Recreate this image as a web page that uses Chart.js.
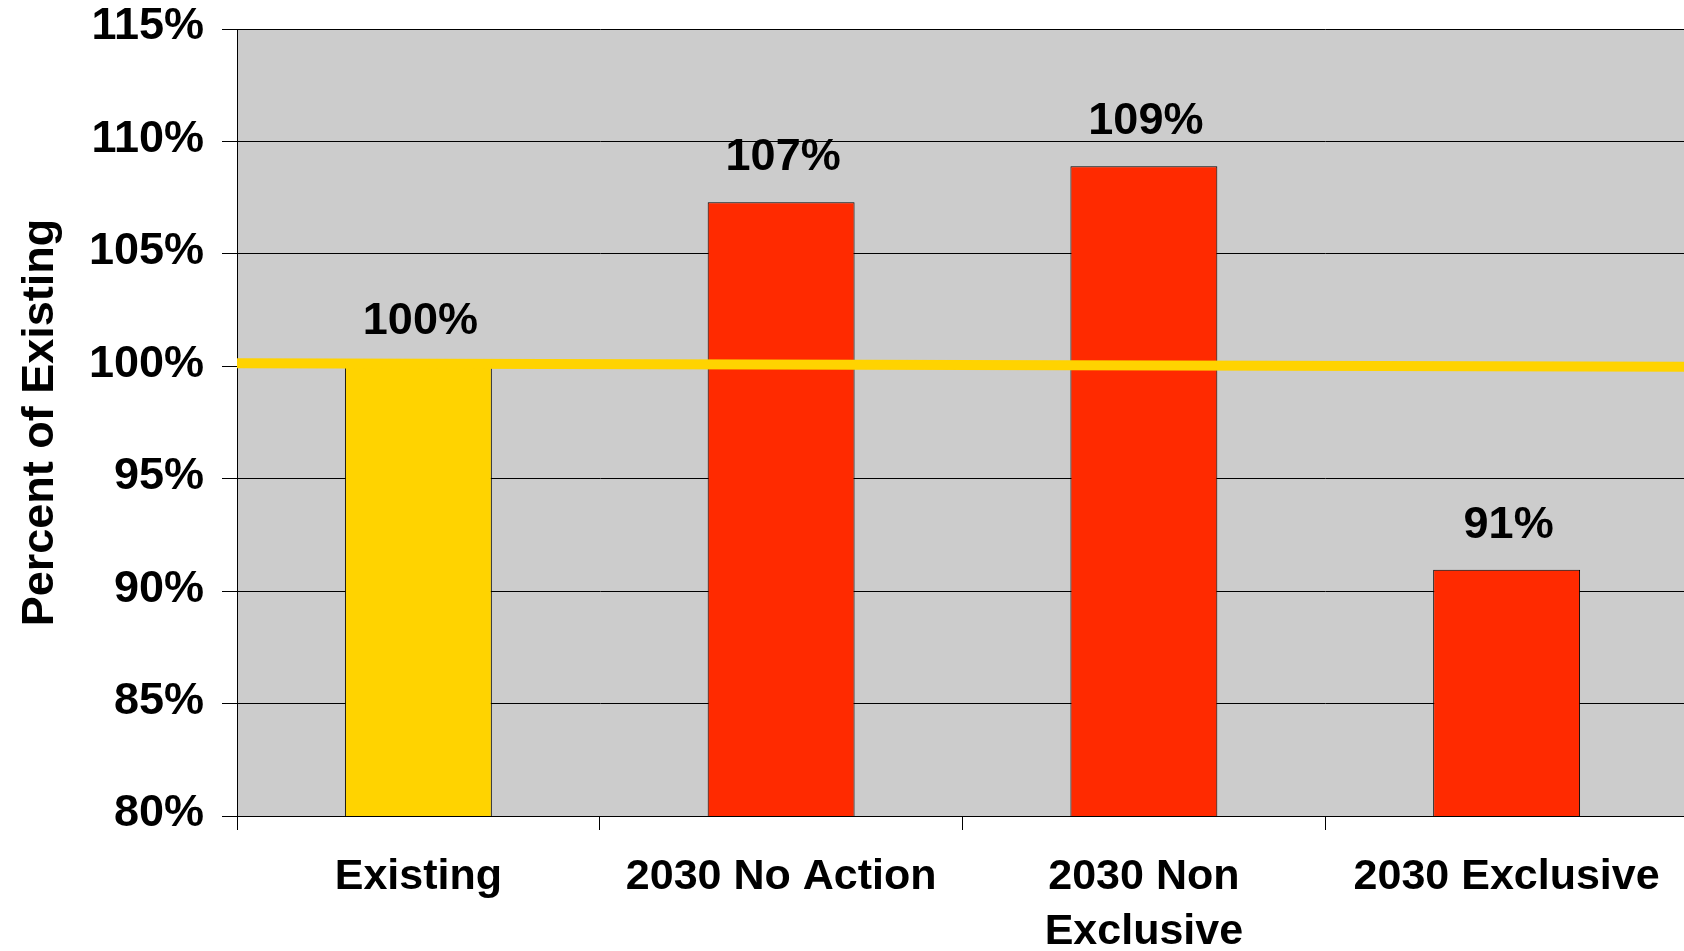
<!DOCTYPE html>
<html>
<head>
<meta charset="utf-8">
<script src="https://cdn.jsdelivr.net/npm/chart.js@4"></script>
<style>
  html, body { margin: 0; padding: 0; background: #ffffff; overflow: hidden; }
  canvas { display: block; }
</style>
</head>
<body>
<canvas id="c" width="1688" height="951"></canvas>
<script>
// ---- data ----
const categories = ['Existing', '2030 No Action', ['2030 Non', 'Exclusive'], '2030 Exclusive'];
const percentOfExisting = [100, 107.3, 108.9, 90.95];
const barColors = ['#FFD300', '#FF2A00', '#FF2A00', '#FF2A00'];
const baselineLine = [{ x: 0, y: 100.13 }, { x: 1, y: 99.98 }];
const yTicks = { min: 80, max: 115, step: 5 };
const yTitle = 'Percent of Existing';

const FONT = '"Liberation Sans", Arial, sans-serif';

const plotBg = {
  id: 'plotBg',
  beforeDraw(chart) {
    const { ctx, chartArea: a } = chart;
    ctx.save();
    ctx.fillStyle = '#CCCCCC';
    ctx.fillRect(a.left, a.top, a.right - a.left, a.bottom - a.top);
    ctx.restore();
  }
};

const valueLabels = {
  id: 'valueLabels',
  afterDatasetsDraw(chart) {
    const { ctx } = chart;
    const meta = chart.getDatasetMeta(0);
    ctx.save();
    ctx.font = 'bold 45px ' + FONT;
    ctx.fillStyle = '#000';
    ctx.textAlign = 'center';
    ctx.textBaseline = 'alphabetic';
    meta.data.forEach((el, i) => {
      const v = chart.data.datasets[0].data[i];
      ctx.fillText(Math.round(v) + '%', el.x + 2, el.y - 32);
    });
    ctx.restore();
  }
};

new Chart(document.getElementById('c'), {
  type: 'bar',
  data: {
    labels: categories,
    datasets: [
      {
        type: 'bar',
        data: percentOfExisting,
        backgroundColor: barColors,
        borderColor: '#000',
        borderWidth: 1,
        barPercentage: 0.405,
        categoryPercentage: 1,
        grouped: false,
        order: 1
      },
      {
        type: 'line',
        data: baselineLine,
        xAxisID: 'x2',
        borderColor: '#FFD300',
        borderWidth: 10,
        pointRadius: 0,
        fill: false,
        order: 0
      }
    ]
  },
  plugins: [plotBg, valueLabels],
  options: {
    responsive: false,
    animation: false,
    layout: { padding: { top: 29, left: 0, right: 0, bottom: 0 } },
    plugins: { legend: { display: false }, tooltip: { enabled: false } },
    scales: {
      x: {
        type: 'category',
        offset: true,
        grid: { offset: true, drawOnChartArea: false, drawTicks: true, tickLength: 14, color: '#000' },
        border: { color: '#000', width: 1 },
        ticks: {
          color: '#000',
          padding: 20,
          maxRotation: 0,
          autoSkip: false,
          font: { family: FONT, size: 43, weight: 'bold', lineHeight: 1.28 }
        },
        afterFit(s) { s.height = 135; s.paddingLeft = 0; s.paddingRight = 0; }
      },
      x2: {
        type: 'linear',
        display: false,
        offset: false,
        min: 0,
        max: 1
      },
      y: {
        min: yTicks.min,
        max: yTicks.max,
        grid: { color: '#000', lineWidth: 1, tickLength: 15, drawTicks: true },
        border: { color: '#000', width: 1 },
        ticks: {
          stepSize: yTicks.step,
          color: '#000',
          padding: 18,
          labelOffset: -2,
          font: { family: FONT, size: 45, weight: 'bold' },
          callback: v => v + '%'
        },
        title: {
          display: true,
          text: yTitle,
          color: '#000',
          font: { family: FONT, size: 45, weight: 'bold', lineHeight: 1 },
          padding: { top: 18, bottom: 0 }
        },
        afterFit(s) { s.width = 237; s.paddingTop = 0; s.paddingBottom = 0; }
      }
    }
  }
});
</script>
</body>
</html>
